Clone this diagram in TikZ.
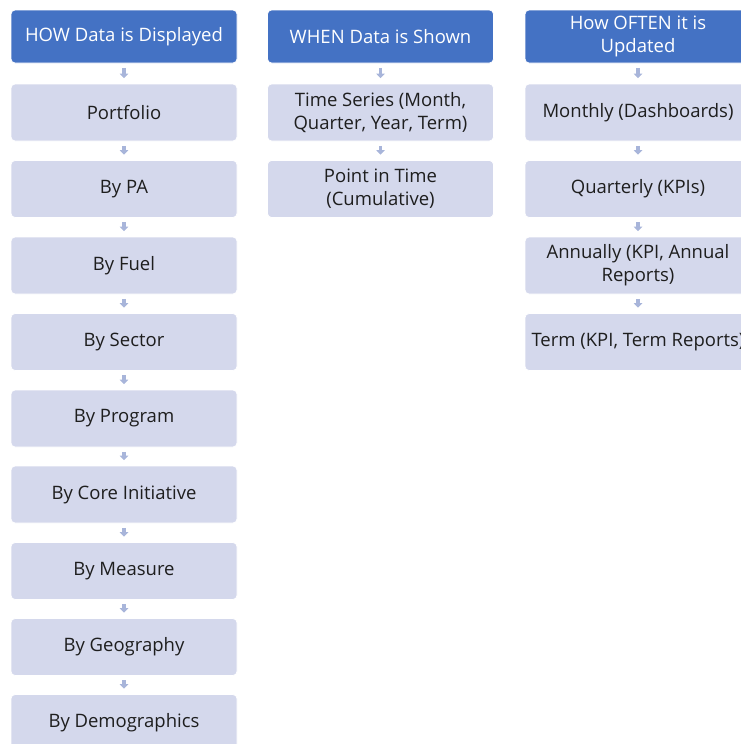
\documentclass[tikz,border=0pt]{standalone}
\usepackage{fontspec}
\setmainfont{Open Sans}
\usetikzlibrary{arrows.meta}
\definecolor{hdrblue}{HTML}{4472C4}
\definecolor{boxfill}{HTML}{D4D8EC}
\definecolor{arrowc}{HTML}{A8B5DA}
\definecolor{txt}{HTML}{1E1E1E}
\tikzset{
  base/.style={rectangle, rounded corners=4pt, minimum width=226pt, align=center, inner sep=0pt, font=\fontsize{18.5pt}{23pt}\selectfont, draw=white, line width=0.8pt},
  hdr/.style={base, fill=hdrblue, text=white, minimum height=53pt},
  item/.style={base, fill=boxfill, text=txt, minimum height=57pt},
  conn/.style={draw=arrowc, line width=3.4pt, -{Triangle[width=8.5pt,length=4.5pt]}, shorten <=4.5pt, shorten >=5.5pt}
}
\begin{document}
\begin{tikzpicture}[x=1pt,y=-1pt]
\useasboundingbox (0,0) rectangle (741,744);
\clip (0,0) rectangle (741,744);
% column 1
\node[hdr]  (h1) at (124,36.5) {HOW Data is Displayed};
\node[item] (a1) at (124,112.5) {Portfolio};
\node[item] (a2) at (124,189) {By PA};
\node[item] (a3) at (124,265.5) {By Fuel};
\node[item] (a4) at (124,342) {By Sector};
\node[item] (a5) at (124,418.5) {By Program};
\node[item] (a6) at (124,494.5) {By Core Initiative};
\node[item] (a7) at (124,571) {By Measure};
\node[item] (a8) at (124,647) {By Geography};
\node[item] (a9) at (124,723) {By Demographics};
% column 2
\node[hdr]  (h2) at (380.5,36.5) {WHEN Data is Shown};
\node[item] (b1) at (380.5,112.5) {Time Series (Month,\\Quarter, Year, Term)};
\node[item] (b2) at (380.5,189) {Point in Time\\(Cumulative)};
% column 3
\node[hdr]  (h3) at (638,36.5) {How OFTEN it is\\Updated};
\node[item] (c1) at (638,112.5) {Monthly (Dashboards)};
\node[item] (c2) at (638,189) {Quarterly (KPIs)};
\node[item] (c3) at (638,265.5) {Annually (KPI, Annual\\Reports)};
\node[item] (c4) at (638,342) {Term (KPI, Term Reports)};
% connectors
\draw[conn] (h1.south) -- (a1.north);
\draw[conn] (a1.south) -- (a2.north);
\draw[conn] (a2.south) -- (a3.north);
\draw[conn] (a3.south) -- (a4.north);
\draw[conn] (a4.south) -- (a5.north);
\draw[conn] (a5.south) -- (a6.north);
\draw[conn] (a6.south) -- (a7.north);
\draw[conn] (a7.south) -- (a8.north);
\draw[conn] (a8.south) -- (a9.north);
\draw[conn] (h2.south) -- (b1.north);
\draw[conn] (b1.south) -- (b2.north);
\draw[conn] (h3.south) -- (c1.north);
\draw[conn] (c1.south) -- (c2.north);
\draw[conn] (c2.south) -- (c3.north);
\draw[conn] (c3.south) -- (c4.north);
\end{tikzpicture}
\end{document}
